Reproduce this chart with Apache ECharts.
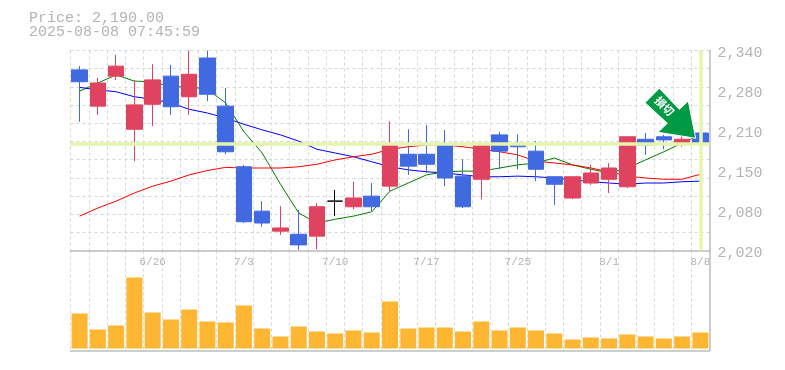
<!DOCTYPE html>
<html><head><meta charset="utf-8">
<style>html,body{margin:0;padding:0;background:#fff}#c{width:785px;height:370px}</style>
<script src="https://cdn.jsdelivr.net/npm/echarts@6/dist/echarts.min.js"></script>
</head><body><div id="c"></div>
<script>
const dates=['6/20','6/23','6/24','6/25','6/26','6/27','6/30','7/1','7/2','7/3','7/4','7/7','7/8','7/9','7/10','7/11','7/14','7/15','7/16','7/17','7/18','7/22','7/23','7/24','7/25','7/28','7/29','7/30','7/31','8/1','8/4','8/5','8/6','8/7','8/8'];
// open, close, low, high
const opens=[2309,2251,2299,2214,2254,2299,2266,2328,2251,2154,2083,2051,2046,2043,2099,2090,2107,2123,2174,2174,2190,2139,2134,2205,2189,2179,2138,2104,2128,2134,2122,2198,2202,2190,2208];
const closes=[2290,2288,2315,2253,2293,2250,2302,2270,2178,2066,2064,2056,2029,2090,2099,2104,2090,2189,2155,2158,2136,2090,2189,2179,2186,2150,2126,2138,2144,2152,2202,2189,2197,2198,2190];
const lows=[2226,2237,2293,2163,2219,2237,2237,2259,2174,2064,2058,2045,2021,2022,2075,2086,2083,2114,2141,2144,2123,2088,2102,2150,2150,2131,2093,2102,2125,2112,2120,2173,2182,2186,2184];
const highs=[2315,2296,2333,2293,2318,2317,2340,2340,2280,2157,2099,2091,2085,2096,2117,2130,2128,2227,2214,2221,2213,2166,2190,2210,2206,2195,2139,2138,2157,2160,2202,2208,2205,2203,2216];
const ma5=[2275,2288,2301,2291,2290,2282,2282,2278,2256,2210,2176,2126,2080,2064,2070,2075,2082,2115,2128,2141,2146,2147,2147,2152,2157,2160,2168,2157,2150,2144,2152,2165,2178,2192,2205];
const ma25=[2281,2277,2274,2266,2262,2256,2246,2240,2232,2222,2213,2205,2195,2182,2176,2170,2162,2154,2149,2146,2144,2141,2138,2138,2139,2138,2136,2133,2130,2128,2126,2128,2128,2130,2131];
const ma75=[2075,2088,2099,2112,2123,2131,2141,2148,2153,2152,2152,2152,2154,2158,2165,2170,2174,2182,2186,2189,2189,2186,2182,2178,2173,2163,2160,2157,2152,2146,2139,2136,2134,2134,2142];
const volumes=[35,19,23,71,36,29,39,27,26,43,20,12,22,17,15,18,16,47,20,21,21,17,27,18,21,18,15,9,11,10,14,12,10,12,16];
const priceTicks=['2,020','2,080','2,150','2,210','2,280','2,340'];
const priceText='Price: 2,190.00';
const timeText='2025-08-08 07:45:59';
const priceLine=2191;
const arrowText='損切';

const MONO='"Liberation Mono","DejaVu Sans Mono",monospace';
const GRID='#d8d8d8', FRAME='#bfbfbf', TXT='#b4b4b4', LIME='#e4f5ac', RED='#e0435f', BLUE='#4169e1';
const candles=dates.map((d,i)=>{
  const v=[opens[i],closes[i],lows[i],highs[i]];
  if(opens[i]===closes[i]) return {value:v,itemStyle:{color:'#000',color0:'#000',borderColor:'#000',borderColor0:'#000',borderColorDoji:'#000',borderWidth:1}};
  return v;
});
const line=(name,data,color)=>({name,type:'line',data,xAxisIndex:0,yAxisIndex:0,symbol:'none',smooth:false,z:3,silent:true,
  lineStyle:{color,width:1},animation:false});
const chart=echarts.init(document.getElementById('c'),null,{renderer:'canvas'});
chart.setOption({
  animation:false,
  backgroundColor:'#fff',
  grid:[{left:70.5,width:639,top:50.5,height:200},{left:70.5,width:639,top:250.5,height:100}],
  xAxis:[
    {type:'category',gridIndex:0,data:dates,boundaryGap:true,
      axisLine:{onZero:false,lineStyle:{color:FRAME,width:1.5}},axisTick:{show:false},
      axisLabel:{interval:(i)=>i%5===4,margin:6,color:TXT,fontFamily:MONO,fontSize:11,hideOverlap:false},
      splitLine:{show:true,interval:0,lineStyle:{color:GRID,type:[3,3],width:1}}},
    {type:'category',gridIndex:1,data:dates,boundaryGap:true,
      axisLine:{onZero:false,lineStyle:{color:FRAME,width:1.5}},axisTick:{show:false},axisLabel:{show:false},
      splitLine:{show:true,interval:0,lineStyle:{color:GRID,type:[3,3],width:1}}}
  ],
  yAxis:[
    {type:'value',gridIndex:0,min:2020,max:2340,scale:true,position:'right',
      axisLine:{show:true,lineStyle:{color:FRAME,width:1.5}},axisTick:{show:false},axisLabel:{show:false},splitLine:{show:false}},
    {type:'value',gridIndex:0,min:0,max:11,interval:1,position:'left',
      axisLine:{show:false},axisTick:{show:false},axisLabel:{show:false},
      splitLine:{show:true,lineStyle:{color:GRID,type:[3,3],width:1}}},
    {type:'value',gridIndex:0,min:0,max:5,interval:1,position:'right',
      axisLine:{show:false},axisTick:{show:false},splitLine:{show:false},
      axisLabel:{show:true,margin:8,color:TXT,fontFamily:MONO,fontSize:15,align:'left',verticalAlign:'top',
        lineHeight:6,formatter:(v)=>priceTicks[v]}},
    {type:'value',gridIndex:1,min:-2,max:98,position:'right',
      axisLine:{show:true,lineStyle:{color:FRAME,width:1.5}},axisTick:{show:false},axisLabel:{show:false},splitLine:{show:false}}
  ],
  series:[
    {type:'line',data:[],xAxisIndex:0,yAxisIndex:0,silent:true,z:1,
      markLine:{silent:true,symbol:'none',label:{show:false},animation:false,
        lineStyle:{color:LIME,width:3.5,type:'solid'},
        data:[{yAxis:priceLine},{xAxis:dates[dates.length-1]}]}},
    line('MA5',ma5,'#008000'),
    line('MA25',ma25,'#0000ff'),
    line('MA75',ma75,'#ff0000'),
    {type:'candlestick',data:candles,xAxisIndex:0,yAxisIndex:0,z:4,barWidth:16,silent:true,
      itemStyle:{color:RED,color0:BLUE,borderColor:RED,borderColor0:BLUE,borderWidth:1}},
    {type:'bar',data:volumes,xAxisIndex:1,yAxisIndex:3,barWidth:16,silent:true,z:3,
      itemStyle:{color:'#ffb733'}}
  ],
  graphic:[
    {type:'text',left:29,top:11,style:{text:priceText,fill:TXT,font:'15px '+MONO}},
    {type:'text',left:29,top:25,style:{text:timeText,fill:TXT,font:'15px '+MONO}},
    {type:'polygon',z:20,shape:{points:[[659.3,88.3],[645,102.7],[667.3,123.3],[658,132.3],[695.7,138.3],[688.3,101],[679.3,109.3]]},
      style:{fill:'#009944',stroke:'#ffffff',lineWidth:1}},
    {type:'text',z:21,x:664.5,y:106,rotation:-Math.PI/4,
      style:{text:arrowText,fill:'#fff',font:'bold 11px "Noto Sans CJK JP"',align:'center',verticalAlign:'middle'}}
  ]
});
</script></body></html>
